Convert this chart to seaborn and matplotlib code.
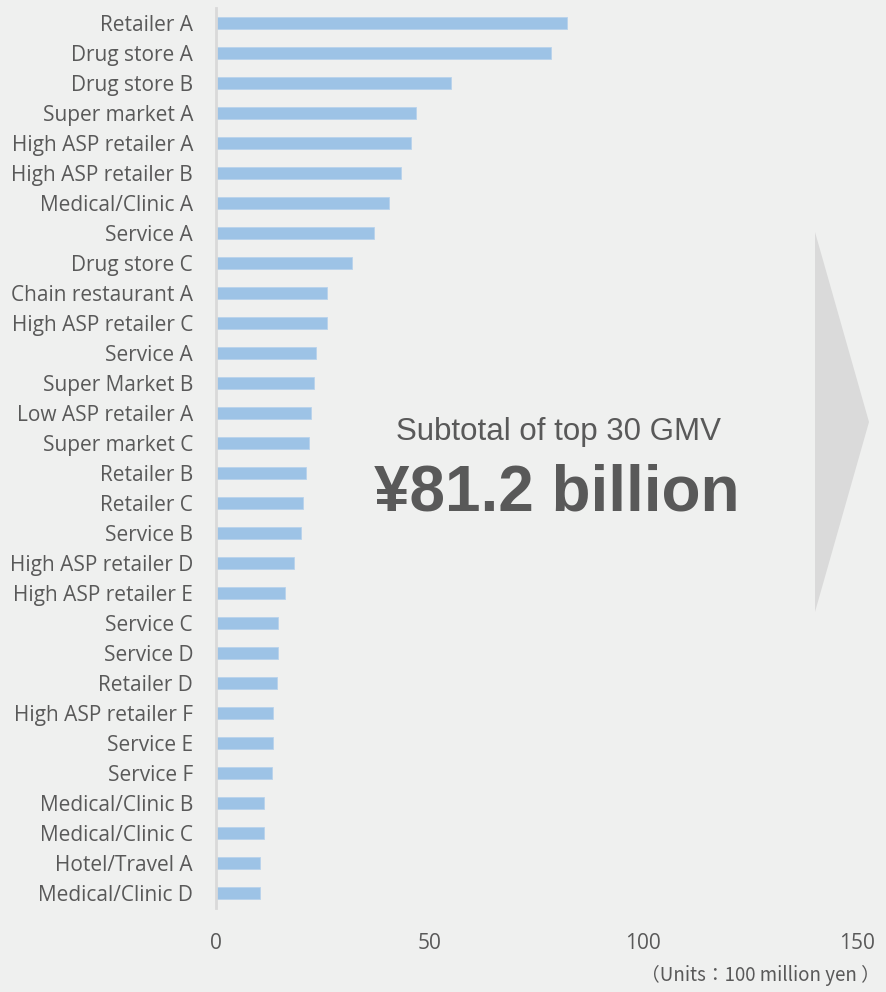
import numpy as np
import pandas as pd
import matplotlib
matplotlib.use("Agg")
import matplotlib.pyplot as plt
from matplotlib.patches import Polygon
import seaborn as sns

# Top 30 merchants by GMV (units: 100 million yen)
merchants = [
    "Retailer A", "Drug store A", "Drug store B", "Super market A",
    "High ASP retailer A", "High ASP retailer B", "Medical/Clinic A",
    "Service A", "Drug store C", "Chain restaurant A", "High ASP retailer C",
    "Service A", "Super Market B", "Low ASP retailer A", "Super market C",
    "Retailer B", "Retailer C", "Service B", "High ASP retailer D",
    "High ASP retailer E", "Service C", "Service D", "Retailer D",
    "High ASP retailer F", "Service E", "Service F", "Medical/Clinic B",
    "Medical/Clinic C", "Hotel/Travel A", "Medical/Clinic D",
]
gmv = [
    82.2, 78.5, 55.0, 46.8, 45.7, 43.3, 40.4, 36.9, 31.8, 26.0,
    25.9, 23.5, 23.0, 22.2, 21.8, 21.0, 20.4, 19.8, 18.3, 16.2,
    14.5, 14.4, 14.2, 13.4, 13.3, 13.1, 11.3, 11.2, 10.4, 10.3,
]
x_ticks = [0, 50, 100, 150]
subtotal_caption = "Subtotal of top 30 GMV"
subtotal_value = "¥81.2 billion"
units_note = "（Units：100 million yen ）"

BG = "#eff0ef"
BAR = "#9dc3e6"
TEXT = "#595959"

sns.set_theme(style="white")
plt.rcParams["font.family"] = ["Open Sans", "DejaVu Sans"]

df = pd.DataFrame({"rank": np.arange(len(merchants)), "gmv": gmv})

fig = plt.figure(figsize=(8.86, 9.92), dpi=100, facecolor=BG)
W, H = 886, 992
ax = fig.add_axes([216 / W, 1 - 908 / H, (857 - 216) / W, 900 / H])
ax.set_facecolor(BG)
ax.patch.set_visible(False)

sns.barplot(data=df, x="gmv", y="rank", orient="h", order=list(df["rank"]),
            color=BAR, saturation=1, width=0.37, edgecolor="#b8d3ec",
            linewidth=0.6, ax=ax)

ax.set_xlim(0, 150)
ax.set_ylim(len(merchants) - 0.5, -0.5)
ax.set_xticks(x_ticks)
ax.set_xticklabels([str(t) for t in x_ticks])
ax.set_yticks(range(len(merchants)))
ax.set_yticklabels(merchants)
ax.set_xlabel("")
ax.set_ylabel("")

for side in ("top", "right", "bottom"):
    ax.spines[side].set_visible(False)
ax.spines["left"].set_color("#d9d9d9")
ax.spines["left"].set_linewidth(2)

ax.tick_params(axis="y", length=0, pad=16.5, labelsize=15, labelcolor=TEXT)
ax.tick_params(axis="x", length=0, pad=18, labelsize=15, labelcolor=TEXT)

# Chevron on the right
chevron = Polygon([[815 / W, 1 - 232 / H], [869 / W, 1 - 422 / H],
                   [815 / W, 1 - 612 / H]], closed=True,
                  transform=fig.transFigure, facecolor="#dadada",
                  edgecolor="none", zorder=1)
fig.add_artist(chevron)

fig.text(558 / W, 1 - 440 / H, subtotal_caption, ha="center", va="baseline",
         fontsize=22.5, color=TEXT, family=["Liberation Sans", "DejaVu Sans"])
fig.text(557 / W, 1 - 510 / H, subtotal_value, ha="center", va="baseline",
         fontsize=46, fontweight="bold", color=TEXT,
         family=["Liberation Sans", "DejaVu Sans"])

fig.text(880 / W, 1 - 975 / H, units_note, ha="right", va="center",
         fontsize=13.5, color=TEXT,
         family=["Noto Sans CJK JP", "DejaVu Sans"])

fig.savefig("out.png", dpi=100, facecolor=BG)
